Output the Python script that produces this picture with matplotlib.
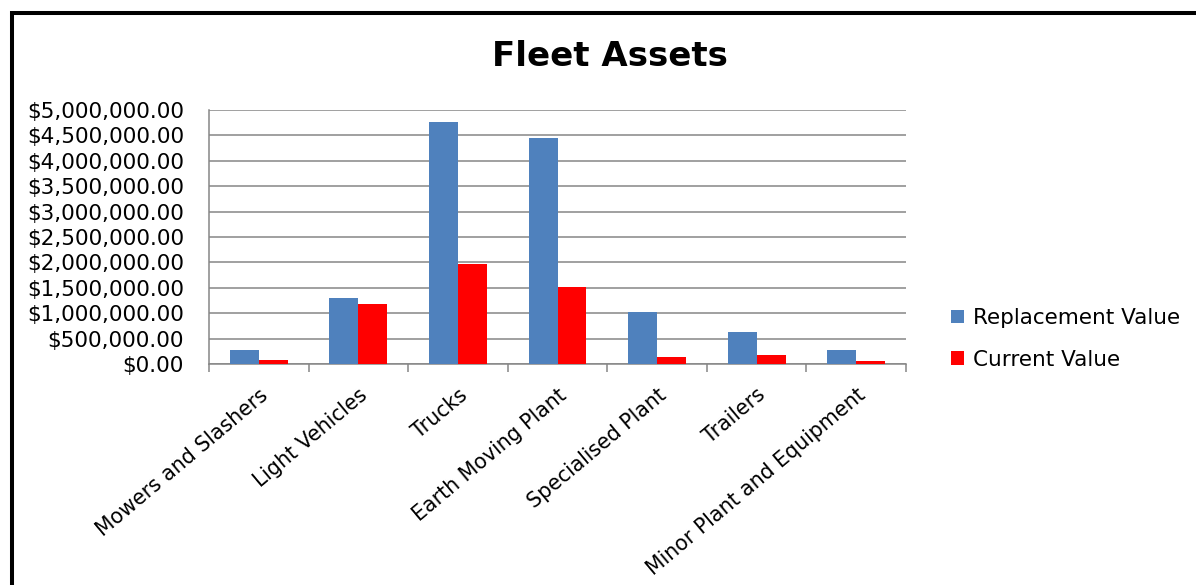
import matplotlib.pyplot as plt
import numpy as np
from matplotlib.patches import Rectangle
from matplotlib.ticker import FuncFormatter, FixedLocator

categories = [
    "Mowers and Slashers",
    "Light Vehicles",
    "Trucks",
    "Earth Moving Plant",
    "Specialised Plant",
    "Trailers",
    "Minor Plant and Equipment",
]
replacement_value = [268000, 1302000, 4764000, 4457000, 1021000, 628000, 268000]
current_value = [85000, 1185000, 1963000, 1525000, 137000, 170000, 59000]

plt.rcParams["font.family"] = ["DejaVu Sans"]

fig = plt.figure(figsize=(11.96, 5.85), dpi=100)
ax = fig.add_axes([209 / 1196, 1 - 364 / 585, 697 / 1196, 254 / 585])

x = np.arange(len(categories))
w = 0.29
ax.bar(x - w / 2, replacement_value, w, color="#4F81BD", label="Replacement Value", zorder=3)
ax.bar(x + w / 2, current_value, w, color="#FF0000", label="Current Value", zorder=3)

ax.set_xlim(-0.5, len(categories) - 0.5)
ax.set_ylim(0, 5000000)
ax.set_yticks(np.arange(0, 5000001, 500000))
ax.yaxis.set_major_formatter(FuncFormatter(lambda v, _: f"${v:,.2f}"))
ax.tick_params(axis="y", length=0, pad=18, labelsize=15.5)
ax.yaxis.grid(True, color="#868686", linewidth=1.1, zorder=0)

# category boundaries carry the tick marks, labels sit on the centres
ax.xaxis.set_major_locator(FixedLocator(np.arange(-0.5, len(categories), 1.0)))
ax.set_xticklabels([])
ax.set_xticks(x, categories, minor=True)
ax.tick_params(axis="x", which="major", length=6, width=1.1, color="#868686", direction="out")
ax.tick_params(axis="x", which="minor", length=0, labelsize=14.8, pad=15)
for lab in ax.get_xticklabels(minor=True):
    lab.set_rotation(40)
    lab.set_ha("right")
    lab.set_rotation_mode("anchor")

for s in ["top", "right"]:
    ax.spines[s].set_visible(False)
for s in ["left", "bottom"]:
    ax.spines[s].set_color("#868686")
    ax.spines[s].set_linewidth(1.1)

fig.text(610 / 1196, 1 - 57 / 585, "Fleet Assets", ha="center", va="center",
         fontsize=24.5, fontweight="bold")

fig.legend(loc="center left", bbox_to_anchor=(932 / 1196, 1 - 339 / 585),
           frameon=False, fontsize=15.5, handlelength=0.6, handleheight=0.6,
           handletextpad=0.4, labelspacing=1.0)

fig.patches.append(Rectangle((12 / 1196, -0.2), 1.5, 1.2 - 13 / 585,
                             transform=fig.transFigure, fill=False,
                             edgecolor="black", linewidth=2.9))

fig.savefig("out.png", dpi=100)
